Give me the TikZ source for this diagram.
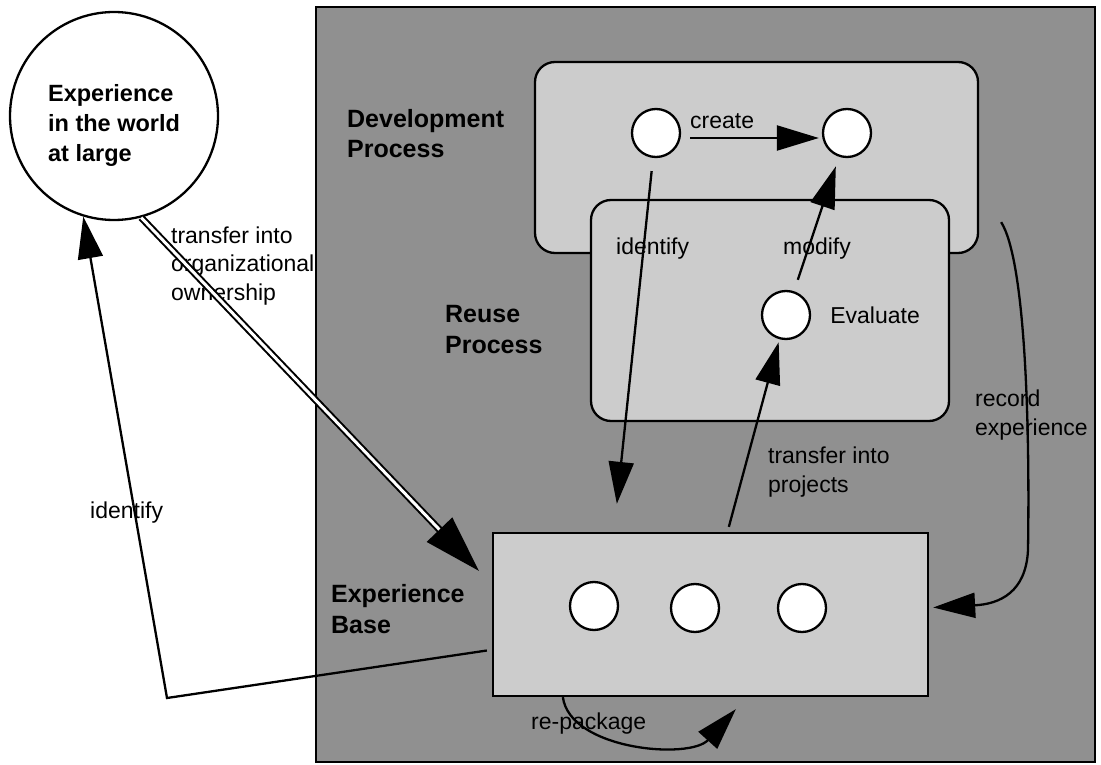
\documentclass[tikz,border=0pt]{standalone}
\usepackage{fontspec}
\setmainfont{Liberation Sans}
\usetikzlibrary{positioning, arrows.meta}

\definecolor{bggray}{HTML}{909090}
\definecolor{boxgray}{HTML}{CCCCCC}

\begin{document}
\begin{tikzpicture}[
        x=1pt, y=-1pt, line width=2.3pt,
        org_node/.style={draw, rectangle, fill=bggray, inner sep=0pt},
        area_node/.style={draw, rectangle, fill=boxgray, inner sep=0pt},
        process_node/.style={area_node, rounded corners=20pt},
        item_node/.style={draw, circle, fill=white, minimum size=48pt, inner sep=0pt},
        world_node/.style={draw, circle, fill=white, minimum size=208pt, inner sep=0pt},
        title_text/.style={anchor=base west, inner sep=0pt, align=left, font=\fontsize{25}{31}\selectfont\bfseries},
        label_text/.style={anchor=base west, inner sep=0pt, align=left, font=\fontsize{23}{28.5}\selectfont},
        arrow/.style={-{Triangle[length=42pt, width=25pt]}},
        big_arrow/.style={-{Triangle[length=57pt, width=35pt]}, double, double distance=3pt, line width=2pt}
    ]
        \useasboundingbox (0,0) rectangle (1101,765);

        % Outside world (multi-line labels sit on their last baseline)
        \node (world) [world_node] at (114,116) {};
        \node (world_text) [title_text, font=\fontsize{23.5}{29.5}\selectfont\bfseries] at (47,161) {Experience\\in the world\\at large};
        \node (own_label) [label_text] at (170,300) {transfer into\\organizational\\ownership};
        \node (ident_label) [label_text] at (89,518) {identify};

        % Organization
        \node (org) [org_node, minimum width=779pt, minimum height=755pt] at (705.5,384.5) {};
        \node (dev) [process_node, minimum width=443pt, minimum height=191pt] at (756.5,157.5) {};
        \node (reuse) [process_node, minimum width=358pt, minimum height=221pt] at (770,310.5) {};
        \node (base) [area_node, minimum width=435pt, minimum height=163pt] at (710.5,614.5) {};

        \node (src) [item_node] at (656,133) {};
        \node (tgt) [item_node] at (847,133) {};
        \node (eval) [item_node] at (786,315) {};
        \node (b1) [item_node] at (594,606) {};
        \node (b2) [item_node] at (695,608) {};
        \node (b3) [item_node] at (802,608) {};

        % Labels
        \node (dev_label) [title_text] at (346,158) {Development\\Process};
        \node (reuse_label) [title_text] at (444,353) {Reuse\\Process};
        \node (base_label) [title_text] at (330,633) {Experience\\Base};
        \node (create_label) [label_text] at (689,129) {create};
        \node (identify_label) [label_text] at (615,254) {identify};
        \node (modify_label) [label_text] at (782,254) {modify};
        \node (eval_label) [label_text, right=18pt of eval] {Evaluate};
        \node (record_label) [label_text] at (974,435) {record\\experience};
        \node (projects_label) [label_text] at (767,492) {transfer into\\projects};
        \node (repack_label) [label_text] at (530,729) {re-package};

        % Arrows
        \coordinate (corner) at (167,698);
        \draw [arrow] ([xshift=-5pt, yshift=-36pt]base.west) -- (corner) -- (world.253);
        \draw [big_arrow] (world.285) -- ([xshift=-13pt, yshift=-39pt]base.north west);
        \draw [arrow, shorten <=9pt, shorten >=3pt] ([yshift=-5pt]src.east) -- ([yshift=-5pt]tgt.west);
        \draw [arrow, shorten <=13pt] ([xshift=-3pt]src.south) -- ([xshift=125pt, yshift=28pt]base.north west);
        \draw [arrow, shorten <=12pt, shorten >=10pt] (eval) -- (tgt);
        \draw [arrow, shorten >=3pt] ([xshift=237pt, yshift=5pt]base.north west) -- (eval);
        \draw [arrow] ([xshift=22pt, yshift=32pt]dev.south east) .. controls (1025,260) and (1030,420) .. (1028,550)
            .. controls (1026,592) and (1000,604) .. ([xshift=4pt, yshift=7pt]base.east);
        \draw [arrow] ([xshift=71pt]base.south west) .. controls (570,750) and (690,760) .. ([xshift=244pt, yshift=-12pt]base.south west);
    \end{tikzpicture}
\end{document}
